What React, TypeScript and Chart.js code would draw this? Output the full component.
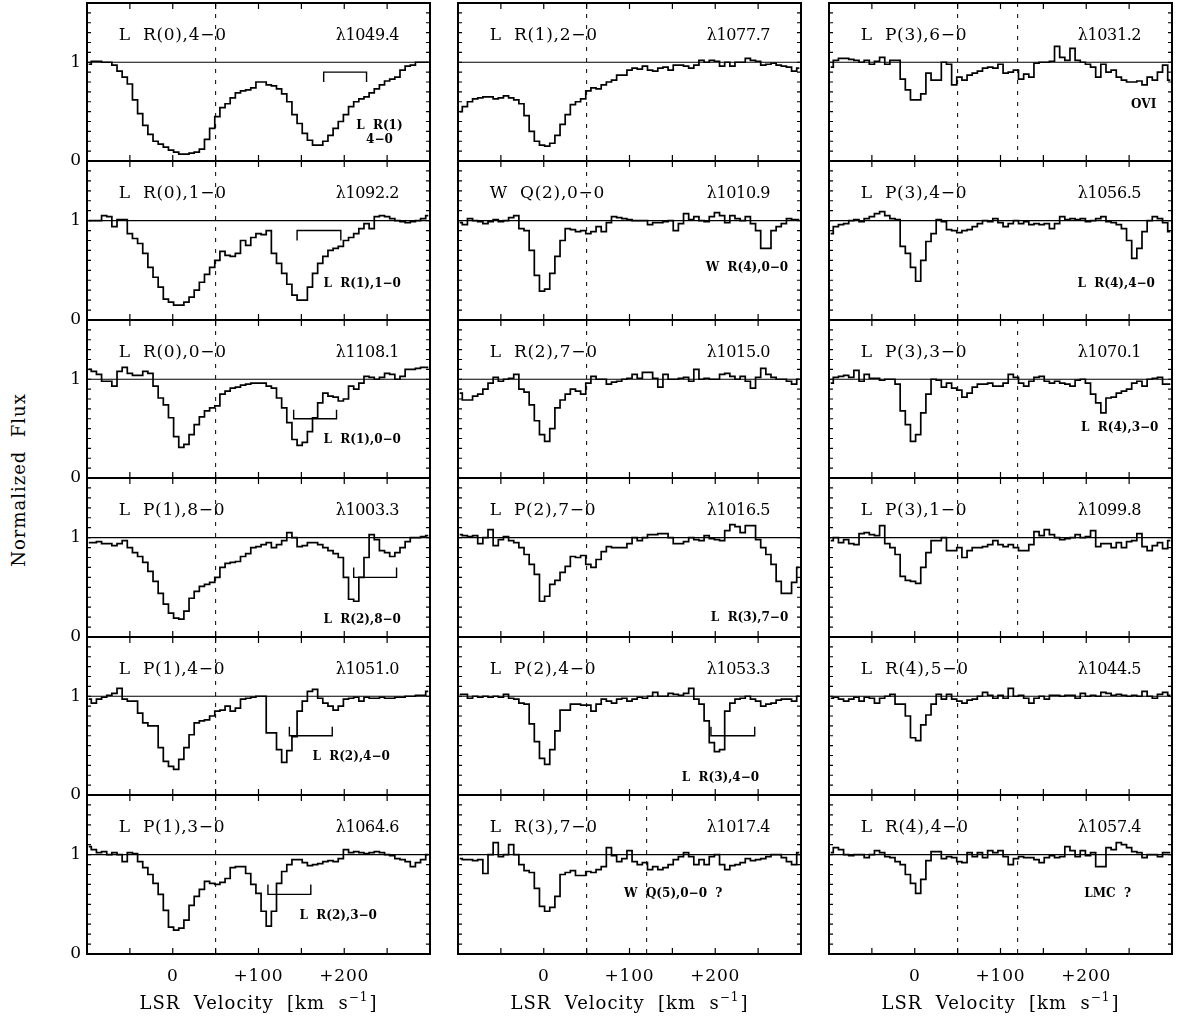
import React, { useEffect, useRef } from "react";
import { Chart, registerables } from "chart.js";

Chart.register(...registerables);

// ---------- data ----------
const VELOCITY = [
  -98, -92, -86, -80, -74, -68, -62, -56, -50, -44, -38, -32, -26, -20, -14, -8, -2, 4, 10, 16,
  22, 28, 34, 40, 46, 52, 58, 64, 70, 76, 82, 88, 94, 100, 106, 112, 118, 124, 130, 136,
  142, 148, 154, 160, 166, 172, 178, 184, 190, 196, 202, 208, 214, 220, 226, 232, 238, 244, 250, 256,
  262, 268, 274, 280, 286, 292, 298,
];

const FLUX_LR0_40 = [
  0.98, 1.01, 1.01, 1.0, 1.0, 0.97, 0.91, 0.85, 0.78, 0.62,
  0.48, 0.36, 0.27, 0.2, 0.17, 0.14, 0.11, 0.09, 0.07, 0.07,
  0.08, 0.09, 0.12, 0.22, 0.33, 0.45, 0.54, 0.58, 0.64, 0.69,
  0.71, 0.72, 0.74, 0.8, 0.8, 0.77, 0.76, 0.73, 0.68, 0.6,
  0.47, 0.38, 0.28, 0.21, 0.16, 0.16, 0.2, 0.26, 0.33, 0.4,
  0.47, 0.55, 0.6, 0.63, 0.65, 0.69, 0.73, 0.77, 0.81, 0.83,
  0.85, 0.92, 0.96, 0.97, 1.0, 1.0, 1.0,
];
const FLUX_LR0_10 = [
  1.0, 1.0, 1.0, 1.05, 1.04, 0.94, 1.01, 1.01, 0.87, 0.82,
  0.77, 0.67, 0.53, 0.43, 0.33, 0.21, 0.18, 0.15, 0.15, 0.18,
  0.23, 0.3, 0.38, 0.46, 0.53, 0.6, 0.69, 0.65, 0.64, 0.67,
  0.8, 0.75, 0.83, 0.87, 0.86, 0.9, 0.67, 0.57, 0.47, 0.36,
  0.25, 0.2, 0.2, 0.33, 0.47, 0.57, 0.64, 0.7, 0.72, 0.74,
  0.8, 0.83, 0.87, 0.92, 0.97, 0.92, 1.04, 1.05, 1.04, 1.02,
  1.0, 0.99, 0.98, 0.99, 1.0, 1.02, 1.05,
];
const FLUX_LR0_00 = [
  1.1, 1.08, 1.05, 0.98, 0.98, 0.93, 1.08, 1.12, 1.06, 1.04,
  1.04, 1.08, 1.06, 0.93, 0.81, 0.74, 0.61, 0.42, 0.31, 0.34,
  0.44, 0.54, 0.62, 0.68, 0.71, 0.73, 0.85, 0.88, 0.91, 0.92,
  0.94, 0.95, 0.96, 0.96, 0.96, 0.93, 0.91, 0.81, 0.71, 0.56,
  0.39, 0.33, 0.36, 0.47, 0.61, 0.76, 0.86, 0.83, 0.82, 0.78,
  0.8, 0.93, 0.9, 0.96, 1.03, 1.02, 1.0, 1.02, 1.06, 1.05,
  1.0, 1.03, 1.1, 1.1, 1.11, 1.12, 1.12,
];
const FLUX_LP1_80 = [
  0.95, 0.95, 0.96, 0.94, 0.94, 0.92, 0.94, 0.97, 0.9, 0.85,
  0.81, 0.75, 0.66, 0.56, 0.44, 0.33, 0.24, 0.19, 0.18, 0.26,
  0.39, 0.46, 0.51, 0.53, 0.55, 0.6, 0.7, 0.74, 0.75, 0.76,
  0.81, 0.84, 0.9, 0.91, 0.93, 0.95, 0.9, 0.93, 0.97, 1.05,
  1.0, 0.91, 0.92, 0.95, 0.95, 0.93, 0.9, 0.87, 0.84, 0.8,
  0.6, 0.38, 0.36, 0.6, 0.8, 1.03, 0.98, 0.87, 0.85, 0.81,
  0.85, 0.9, 0.96, 1.0, 1.0, 1.01, 1.02,
];
const FLUX_LP1_40 = [
  0.97, 0.93, 0.97, 0.99, 1.01, 1.03, 1.08, 0.97, 0.95, 0.95,
  0.83, 0.73, 0.7, 0.7, 0.48, 0.34, 0.29, 0.26, 0.36, 0.48,
  0.61, 0.73, 0.75, 0.76, 0.8, 0.85, 0.86, 0.9, 0.85, 0.88,
  0.97, 0.98, 0.99, 1.0, 1.0, 0.63, 0.63, 0.46, 0.33, 0.45,
  0.59, 0.85, 0.95, 1.05, 1.07, 0.98, 0.93, 0.9, 0.86, 0.9,
  0.97, 0.98, 0.99, 0.95, 0.99, 0.98, 0.98, 0.99, 0.98, 0.98,
  0.99, 0.99, 1.0, 1.0, 1.01, 1.01, 1.05,
];
const FLUX_LP1_30 = [
  1.08, 1.05, 1.02, 1.03, 1.0, 1.02, 1.0, 0.93, 1.02, 1.01,
  0.93, 0.87, 0.8, 0.71, 0.6, 0.44, 0.27, 0.24, 0.26, 0.34,
  0.49, 0.58, 0.65, 0.73, 0.71, 0.7, 0.72, 0.76, 0.87, 0.88,
  0.88, 0.81, 0.7, 0.61, 0.43, 0.28, 0.43, 0.71, 0.83, 0.9,
  0.95, 0.95, 0.92, 0.89, 0.9, 0.91, 0.93, 0.94, 0.93, 0.96,
  1.05, 1.02, 1.03, 1.02, 1.01, 1.02, 1.03, 1.02, 1.0, 0.99,
  0.96, 0.95, 0.93, 0.88, 0.92, 0.95, 1.0,
];
const FLUX_LR1_20 = [
  0.5, 0.55, 0.6, 0.63, 0.64, 0.65, 0.65, 0.63, 0.64, 0.66,
  0.64, 0.62, 0.58, 0.46, 0.3, 0.2, 0.16, 0.15, 0.18, 0.26,
  0.37, 0.47, 0.57, 0.6, 0.63, 0.71, 0.74, 0.73, 0.77, 0.8,
  0.82, 0.87, 0.87, 0.92, 0.94, 0.93, 0.96, 0.92, 0.91, 0.94,
  0.95, 0.92, 0.97, 0.97, 0.96, 0.94, 0.97, 1.02, 1.0, 1.02,
  1.01, 0.96, 1.0, 0.96, 1.0, 1.0, 1.04, 1.02, 1.01, 0.97,
  0.98, 0.99, 0.97, 0.96, 0.95, 0.91, 0.94,
];
const FLUX_WQ2_00 = [
  0.98, 0.96, 1.02, 1.0, 0.99, 0.97, 0.99, 1.01, 0.99, 1.0,
  1.03, 1.05, 0.92, 0.9, 0.7, 0.45, 0.29, 0.31, 0.47, 0.64,
  0.8, 0.92, 0.91, 0.89, 0.9, 0.87, 0.89, 0.94, 0.89, 0.98,
  1.04, 1.03, 1.02, 1.01, 1.0, 1.0, 1.0, 0.96, 0.98, 0.98,
  0.99, 1.0, 0.9, 0.97, 1.07, 1.01, 1.04, 1.0, 0.99, 1.04,
  1.08, 1.05, 0.98, 1.05, 1.02, 1.0, 1.04, 0.97, 0.9, 0.72,
  0.72, 0.9, 0.94, 0.97, 1.02, 1.01, 1.01,
];
const FLUX_LR2_70 = [
  0.86, 0.79, 0.79, 0.83, 0.85, 0.9, 0.96, 1.02, 0.98, 1.0,
  1.01, 1.05, 0.9, 0.87, 0.74, 0.58, 0.44, 0.37, 0.5, 0.71,
  0.79, 0.85, 0.9, 0.88, 0.85, 0.96, 1.03, 1.0, 1.0, 0.95,
  0.97, 0.98, 1.0, 1.01, 1.05, 1.01, 1.07, 1.07, 1.01, 0.92,
  1.05, 1.0, 1.0, 1.01, 1.02, 0.98, 1.1, 1.0, 1.01, 1.0,
  1.0, 1.05, 1.06, 1.03, 1.0, 1.03, 0.98, 0.91, 1.02, 1.11,
  1.05, 1.02, 1.0, 1.0, 0.98, 0.95, 1.0,
];
const FLUX_LP2_70 = [
  1.03, 1.02, 1.01, 1.02, 0.94, 1.0, 1.08, 0.92, 0.98, 1.01,
  0.97, 0.95, 0.9, 0.83, 0.73, 0.63, 0.36, 0.41, 0.53, 0.57,
  0.65, 0.71, 0.81, 0.8, 0.82, 0.73, 0.7, 0.78, 0.86, 0.91,
  0.9, 0.9, 0.9, 0.94, 1.0, 0.97, 1.0, 1.03, 1.03, 1.04,
  1.04, 1.0, 0.94, 0.94, 0.96, 1.0, 0.98, 0.97, 1.02, 0.99,
  0.98, 0.97, 1.07, 1.13, 1.11, 1.05, 1.12, 1.12, 0.98, 0.9,
  0.83, 0.73, 0.56, 0.44, 0.44, 0.55, 0.7,
];
const FLUX_LP2_40 = [
  1.02, 1.02, 0.98, 1.0, 0.99, 1.0, 0.99, 1.0, 0.99, 1.02,
  0.98, 0.97, 0.93, 0.92, 0.72, 0.54, 0.37, 0.31, 0.46, 0.65,
  0.86, 0.86, 0.92, 0.92, 0.91, 0.91, 0.85, 0.92, 0.97, 0.95,
  0.93, 0.97, 0.98, 0.95, 0.97, 0.99, 0.98, 1.0, 1.04, 1.0,
  1.0, 1.03, 1.02, 1.01, 1.03, 1.08, 0.97, 0.92, 0.75, 0.53,
  0.44, 0.46, 0.85, 0.93, 0.97, 0.98, 1.0, 0.97, 0.95, 0.9,
  0.92, 0.93, 0.96, 0.97, 0.97, 0.95, 1.0,
];
const FLUX_LR3_70 = [
  0.96, 0.95, 0.95, 0.94, 0.95, 0.81, 1.0, 1.12, 0.98, 1.0,
  1.1, 1.0, 0.9, 0.84, 0.82, 0.66, 0.48, 0.43, 0.47, 0.58,
  0.8, 0.82, 0.84, 0.79, 0.79, 0.83, 0.82, 0.85, 0.88, 1.07,
  0.99, 0.93, 0.96, 1.04, 0.93, 0.9, 0.92, 0.85, 0.88, 0.85,
  0.87, 0.9, 0.95, 0.98, 1.02, 0.98, 0.9, 0.95, 0.9, 0.98,
  1.0, 0.9, 0.85, 0.89, 0.9, 0.92, 0.96, 0.94, 0.95, 0.96,
  0.98, 1.0, 1.0, 0.97, 0.93, 0.9, 1.02,
];
const FLUX_LP3_60 = [
  0.95, 1.02, 1.04, 1.04, 1.03, 1.02, 1.0, 1.02, 0.98, 1.01,
  1.05, 0.98, 1.02, 1.02, 0.83, 0.72, 0.62, 0.62, 0.68, 0.89,
  0.82, 0.82, 1.0, 0.98, 0.77, 0.85, 0.82, 0.87, 0.89, 0.91,
  0.94, 0.95, 0.94, 0.98, 0.89, 0.9, 0.92, 0.83, 0.88, 0.85,
  0.99, 1.0, 1.0, 1.01, 1.16, 1.05, 1.02, 1.14, 1.02, 1.0,
  0.98, 0.95, 0.85, 0.98, 0.9, 0.92, 0.85, 0.82, 0.8, 0.8,
  0.81, 0.77, 0.85, 0.82, 0.9, 0.97, 0.82,
];
const FLUX_LP3_40 = [
  0.87, 0.94, 0.96, 0.97, 1.0, 1.01, 0.99, 1.02, 1.04, 1.07,
  1.09, 1.05, 1.02, 1.01, 0.74, 0.67, 0.53, 0.39, 0.6, 0.79,
  0.87, 1.01, 0.99, 0.91, 0.9, 0.88, 0.9, 0.91, 0.94, 0.97,
  1.0, 0.99, 1.02, 0.98, 0.94, 0.97, 1.0, 0.97, 0.99, 0.96,
  0.97, 0.96, 0.97, 0.92, 0.97, 1.04, 1.01, 1.02, 1.01, 1.02,
  0.99, 1.0, 1.02, 1.04, 0.99, 0.98, 0.96, 0.92, 0.8, 0.62,
  0.72, 0.89, 1.0, 1.04, 1.02, 0.98, 0.89,
];
const FLUX_LP3_30 = [
  0.96, 1.02, 1.03, 1.04, 1.02, 1.09, 0.98, 1.05, 1.01, 1.01,
  0.99, 1.0, 1.0, 0.95, 0.68, 0.54, 0.37, 0.44, 0.66, 0.85,
  1.0, 0.99, 0.92, 0.96, 0.91, 0.89, 0.82, 0.86, 0.92, 0.95,
  0.95, 0.96, 0.93, 0.93, 0.96, 1.05, 1.02, 0.96, 0.93, 0.98,
  1.02, 1.03, 0.98, 0.96, 0.98, 0.96, 0.95, 0.93, 0.99, 1.0,
  0.96, 0.85, 0.76, 0.66, 0.81, 0.82, 0.86, 0.88, 0.9, 0.96,
  0.98, 0.93, 1.0, 1.01, 1.02, 0.95, 0.95,
];
const FLUX_LP3_10 = [
  0.97, 1.0, 0.95, 0.98, 0.94, 0.93, 1.04, 1.05, 1.03, 1.02,
  1.12, 0.94, 0.9, 0.83, 0.61, 0.57, 0.56, 0.54, 0.7, 0.85,
  0.97, 0.97, 1.0, 0.87, 0.87, 0.9, 0.8, 0.87, 0.9, 0.9,
  0.91, 0.93, 0.97, 0.93, 0.91, 0.93, 0.9, 0.87, 0.87, 0.93,
  1.06, 1.02, 1.08, 1.03, 1.0, 0.98, 0.99, 1.0, 1.03, 1.0,
  1.01, 1.07, 0.91, 0.94, 0.94, 0.9, 0.95, 0.9, 0.96, 0.97,
  1.04, 0.91, 0.87, 0.92, 0.95, 0.89, 0.97,
];
const FLUX_LR4_50 = [
  0.98, 0.99, 0.97, 0.95, 0.97, 0.99, 0.95, 0.99, 0.98, 0.93,
  0.98, 1.0, 1.02, 0.92, 0.92, 0.8, 0.58, 0.55, 0.71, 0.81,
  0.92, 1.02, 0.97, 1.02, 0.97, 0.95, 0.93, 0.96, 0.97, 1.0,
  1.04, 1.01, 0.98, 1.01, 0.98, 1.08, 1.0, 1.01, 0.98, 0.93,
  0.98, 1.0, 0.97, 1.01, 1.01, 1.0, 1.01, 1.01, 0.98, 1.03,
  1.0, 1.01, 1.0, 1.04, 1.03, 1.01, 1.02, 1.01, 1.0, 1.01,
  1.0, 1.05, 1.0, 0.98, 1.02, 1.04, 1.01,
];
const FLUX_LR4_40 = [
  1.02, 1.07, 1.05, 1.0, 0.99, 1.0, 1.0, 0.97, 1.0, 1.04,
  1.02, 0.98, 0.97, 0.93, 0.9, 0.8, 0.71, 0.61, 0.75, 0.94,
  1.03, 1.03, 0.96, 0.98, 0.97, 0.93, 0.92, 1.02, 0.98, 1.02,
  0.97, 1.04, 1.02, 1.04, 0.98, 0.9, 0.96, 0.98, 0.97, 0.97,
  0.95, 0.92, 0.97, 0.99, 0.97, 0.98, 1.08, 1.04, 0.98, 1.04,
  0.99, 1.02, 0.88, 0.88, 1.07, 1.05, 1.12, 1.1, 1.07, 1.03,
  1.02, 0.97, 1.0, 1.0, 0.98, 1.02, 1.02,
];

const X_MIN = -100;
const X_MAX = 300;
const Y_MIN = 0;
const Y_MAX = 1.6;
const X_TICK_MARKS = [-50, 0, 50, 100, 150, 200, 250];
const X_TICK_LABELS = [
  { v: 0, text: "0" },
  { v: 100, text: "+100" },
  { v: 200, text: "+200" },
];
const Y_TICK_MARKS = [0.1, 0.2, 0.3, 0.4, 0.5, 0.6, 0.7, 0.8, 0.9, 1.0, 1.1, 1.2, 1.3, 1.4, 1.5];
const Y_TICK_LABELS = [0, 1];
const CONTINUUM = 1;
const X_TITLE = "LSR  Velocity  [km  s";
const X_TITLE_SUP = "−1";
const Y_TITLE = "Normalized  Flux";

type Bracket = { from: number; to: number; y: number; tip: number };
type Note = { text: string; v: number; y: number };
type Panel = {
  col: number;
  row: number;
  title: string;
  wave: string;
  flux: number[];
  marks: number[];
  bracket?: Bracket;
  notes: Note[];
};

const PANELS: Panel[] = [
  { col: 0, row: 0, title: "L  R(0),4−0", wave: "λ1049.4", flux: FLUX_LR0_40, marks: [50],
    bracket: { from: 176, to: 226, y: 0.9, tip: -0.1 },
    notes: [{ text: "L  R(1)", v: 241, y: 0.36 }, { text: "4−0", v: 241, y: 0.21 }] },
  { col: 0, row: 1, title: "L  R(0),1−0", wave: "λ1092.2", flux: FLUX_LR0_10, marks: [50],
    bracket: { from: 145, to: 196, y: 0.9, tip: -0.1 },
    notes: [{ text: "L  R(1),1−0", v: 221, y: 0.36 }] },
  { col: 0, row: 2, title: "L  R(0),0−0", wave: "λ1108.1", flux: FLUX_LR0_00, marks: [50],
    bracket: { from: 141, to: 191, y: 0.6, tip: 0.09 },
    notes: [{ text: "L  R(1),0−0", v: 221, y: 0.39 }] },
  { col: 0, row: 3, title: "L  P(1),8−0", wave: "λ1003.3", flux: FLUX_LP1_80, marks: [50],
    bracket: { from: 211, to: 261, y: 0.6, tip: 0.1 },
    notes: [{ text: "L  R(2),8−0", v: 221, y: 0.175 }] },
  { col: 0, row: 4, title: "L  P(1),4−0", wave: "λ1051.0", flux: FLUX_LP1_40, marks: [50],
    bracket: { from: 136, to: 186, y: 0.6, tip: 0.09 },
    notes: [{ text: "L  R(2),4−0", v: 208, y: 0.39 }] },
  { col: 0, row: 5, title: "L  P(1),3−0", wave: "λ1064.6", flux: FLUX_LP1_30, marks: [50],
    bracket: { from: 111, to: 161, y: 0.6, tip: 0.1 },
    notes: [{ text: "L  R(2),3−0", v: 193, y: 0.38 }] },

  { col: 1, row: 0, title: "L  R(1),2−0", wave: "λ1077.7", flux: FLUX_LR1_20, marks: [50], notes: [] },
  { col: 1, row: 1, title: "W  Q(2),0−0", wave: "λ1010.9", flux: FLUX_WQ2_00, marks: [50],
    notes: [{ text: "W  R(4),0−0", v: 237, y: 0.52 }] },
  { col: 1, row: 2, title: "L  R(2),7−0", wave: "λ1015.0", flux: FLUX_LR2_70, marks: [50], notes: [] },
  { col: 1, row: 3, title: "L  P(2),7−0", wave: "λ1016.5", flux: FLUX_LP2_70, marks: [50],
    notes: [{ text: "L  R(3),7−0", v: 240, y: 0.19 }] },
  { col: 1, row: 4, title: "L  P(2),4−0", wave: "λ1053.3", flux: FLUX_LP2_40, marks: [50],
    bracket: { from: 195, to: 246, y: 0.6, tip: 0.09 },
    notes: [{ text: "L  R(3),4−0", v: 206, y: 0.17 }] },
  { col: 1, row: 5, title: "L  R(3),7−0", wave: "λ1017.4", flux: FLUX_LR3_70, marks: [50, 120],
    notes: [{ text: "W  Q(5),0−0  ?", v: 151, y: 0.61 }] },

  { col: 2, row: 0, title: "L  P(3),6−0", wave: "λ1031.2", flux: FLUX_LP3_60, marks: [50, 120],
    notes: [{ text: "OVI", v: 267, y: 0.57 }] },
  { col: 2, row: 1, title: "L  P(3),4−0", wave: "λ1056.5", flux: FLUX_LP3_40, marks: [50],
    notes: [{ text: "L  R(4),4−0", v: 235, y: 0.365 }] },
  { col: 2, row: 2, title: "L  P(3),3−0", wave: "λ1070.1", flux: FLUX_LP3_30, marks: [50, 120],
    notes: [{ text: "L  R(4),3−0", v: 239, y: 0.51 }] },
  { col: 2, row: 3, title: "L  P(3),1−0", wave: "λ1099.8", flux: FLUX_LP3_10, marks: [50, 120], notes: [] },
  { col: 2, row: 4, title: "L  R(4),5−0", wave: "λ1044.5", flux: FLUX_LR4_50, marks: [50], notes: [] },
  { col: 2, row: 5, title: "L  R(4),4−0", wave: "λ1057.4", flux: FLUX_LR4_40, marks: [50, 120],
    notes: [{ text: "LMC  ?", v: 225, y: 0.61 }] },
];

// ---------- layout / style ----------
const COL_LEFT = [87, 458, 829];
const PANEL_W = 343;
const ROW_EDGES = [3, 161, 320, 478, 637, 795, 954];
const FONT_FAMILY = '"DejaVu Serif", serif';
const TITLE_FONT = `17px ${FONT_FAMILY}`;
const TITLE_SPACING = "0.7px";
const WAVE_FONT = `16px ${FONT_FAMILY}`;
const WAVE_SPACING = "-0.4px";
const NOTE_FONT = `bold 12px ${FONT_FAMILY}`;
const AXIS_FONT = `17px ${FONT_FAMILY}`;
const AXIS_TITLE_FONT = `18px ${FONT_FAMILY}`;
const AXIS_TITLE_SPACING = "1px";
const TITLE_V_LEFT = -63;
const TITLE_V_RIGHT = 264;
const TITLE_Y = 1.27;

function setSpacing(ctx: any, s: string) {
  try {
    ctx.letterSpacing = s;
  } catch (e) {
    /* ignore */
  }
}

function makePlugin(p: Panel) {
  return {
    id: "decor" + p.col + p.row,
    beforeDatasetsDraw(chart: any) {
      const { ctx, chartArea: a } = chart;
      const xs = chart.scales.x;
      const ys = chart.scales.y;
      ctx.save();
      ctx.strokeStyle = "#000";
      ctx.lineWidth = 1.1;
      ctx.beginPath();
      const yc = ys.getPixelForValue(CONTINUUM);
      ctx.moveTo(a.left, yc);
      ctx.lineTo(a.right, yc);
      ctx.stroke();
      ctx.lineWidth = 1;
      ctx.setLineDash([4, 7]);
      p.marks.forEach((m) => {
        const x = xs.getPixelForValue(m);
        ctx.beginPath();
        ctx.moveTo(x, a.top);
        ctx.lineTo(x, a.bottom);
        ctx.stroke();
      });
      ctx.restore();
    },
    afterDatasetsDraw(chart: any) {
      const { ctx, chartArea: a } = chart;
      const xs = chart.scales.x;
      const ys = chart.scales.y;
      ctx.save();
      ctx.strokeStyle = "#000";
      ctx.fillStyle = "#000";
      // ticks
      ctx.lineWidth = 1.2;
      ctx.beginPath();
      X_TICK_MARKS.forEach((v) => {
        const x = xs.getPixelForValue(v);
        ctx.moveTo(x, a.top);
        ctx.lineTo(x, a.top + 6);
        ctx.moveTo(x, a.bottom);
        ctx.lineTo(x, a.bottom - 6);
      });
      Y_TICK_MARKS.forEach((v) => {
        const y = ys.getPixelForValue(v);
        ctx.moveTo(a.left, y);
        ctx.lineTo(a.left + 4, y);
        ctx.moveTo(a.right, y);
        ctx.lineTo(a.right - 4, y);
      });
      ctx.stroke();
      // border
      ctx.lineWidth = 2;
      ctx.strokeRect(a.left, a.top, a.right - a.left, a.bottom - a.top);
      // bracket
      if (p.bracket) {
        const b = p.bracket;
        const x1 = xs.getPixelForValue(b.from);
        const x2 = xs.getPixelForValue(b.to);
        const y = ys.getPixelForValue(b.y);
        const yt = ys.getPixelForValue(b.y + b.tip);
        ctx.lineWidth = 1.4;
        ctx.beginPath();
        ctx.moveTo(x1, yt);
        ctx.lineTo(x1, y);
        ctx.lineTo(x2, y);
        ctx.lineTo(x2, yt);
        ctx.stroke();
      }
      // titles
      ctx.textBaseline = "middle";
      ctx.font = TITLE_FONT;
      setSpacing(ctx, TITLE_SPACING);
      ctx.textAlign = "left";
      ctx.fillText(p.title, xs.getPixelForValue(TITLE_V_LEFT), ys.getPixelForValue(TITLE_Y));
      ctx.font = WAVE_FONT;
      setSpacing(ctx, WAVE_SPACING);
      ctx.textAlign = "right";
      ctx.fillText(p.wave, xs.getPixelForValue(TITLE_V_RIGHT), ys.getPixelForValue(TITLE_Y));
      // notes
      ctx.font = NOTE_FONT;
      setSpacing(ctx, "0px");
      ctx.textAlign = "center";
      p.notes.forEach((n) => {
        ctx.fillText(n.text, xs.getPixelForValue(n.v), ys.getPixelForValue(n.y));
      });
      // y tick labels
      if (p.col === 0) {
        ctx.font = AXIS_FONT;
        ctx.textAlign = "right";
        Y_TICK_LABELS.forEach((v) => {
          ctx.fillText(String(v), a.left - 6, ys.getPixelForValue(v));
        });
      }
      // x tick labels + title
      if (p.row === 5) {
        ctx.font = AXIS_FONT;
        setSpacing(ctx, "0.8px");
        ctx.textAlign = "center";
        X_TICK_LABELS.forEach((t) => {
          ctx.fillText(t.text, xs.getPixelForValue(t.v), a.bottom + 23);
        });
        const cx = (a.left + a.right) / 2;
        const yb = a.bottom + 50;
        setSpacing(ctx, AXIS_TITLE_SPACING);
        ctx.font = AXIS_TITLE_FONT;
        const w1 = ctx.measureText(X_TITLE).width;
        const w3 = ctx.measureText("]").width;
        ctx.font = `12px ${FONT_FAMILY}`;
        const w2 = ctx.measureText(X_TITLE_SUP).width;
        const total = w1 + w2 + w3 + 1;
        let x0 = cx - total / 2;
        ctx.textAlign = "left";
        ctx.font = AXIS_TITLE_FONT;
        ctx.fillText(X_TITLE, x0, yb);
        x0 += w1;
        ctx.font = `12px ${FONT_FAMILY}`;
        ctx.fillText(X_TITLE_SUP, x0, yb - 6);
        x0 += w2 + 1;
        ctx.font = AXIS_TITLE_FONT;
        ctx.fillText("]", x0, yb);
      }
      ctx.restore();
    },
  };
}

function panelBox(p: Panel) {
  const padL = p.col === 0 ? 40 : 12;
  const padR = 12;
  const padT = 12;
  const padB = p.row === 5 ? 75 : 12;
  const top = ROW_EDGES[p.row];
  const h = ROW_EDGES[p.row + 1] - top;
  return {
    padL, padR, padT, padB,
    left: COL_LEFT[p.col] - padL,
    top: top - padT,
    width: PANEL_W + padL + padR,
    height: h + padT + padB,
  };
}

export default function App() {
  const refs = useRef<(HTMLCanvasElement | null)[]>([]);

  useEffect(() => {
    const charts = PANELS.map((p, k) => {
      const box = panelBox(p);
      const canvas = refs.current[k] as HTMLCanvasElement;
      return new Chart(canvas, {
        type: "line",
        data: {
          datasets: [
            {
              data: VELOCITY.map((v, i) => ({ x: v, y: p.flux[i] })),
              borderColor: "#000",
              borderWidth: 1.7,
              pointRadius: 0,
              stepped: "middle",
              fill: false,
            },
          ],
        },
        options: {
          animation: false,
          responsive: false,
          events: [],
          layout: { padding: { left: box.padL, right: box.padR, top: box.padT, bottom: box.padB } },
          scales: {
            x: { type: "linear", min: X_MIN, max: X_MAX, display: false },
            y: { type: "linear", min: Y_MIN, max: Y_MAX, display: false },
          },
          plugins: { legend: { display: false }, tooltip: { enabled: false } },
        },
        plugins: [makePlugin(p)],
      } as any);
    });
    return () => charts.forEach((c) => c.destroy());
  }, []);

  return (
    <div style={{ position: "absolute", left: 0, top: 0, width: 1178, height: 1021, background: "#fff", overflow: "hidden" }}>
      {PANELS.map((p, k) => {
        const box = panelBox(p);
        return (
          <canvas
            key={k}
            ref={(el) => { refs.current[k] = el; }}
            width={box.width}
            height={box.height}
            style={{ position: "absolute", left: box.left, top: box.top, width: box.width, height: box.height }}
          />
        );
      })}
      <div
        style={{
          position: "absolute",
          left: 18,
          top: 480,
          transform: "translate(-50%, -50%) rotate(-90deg)",
          whiteSpace: "pre",
          font: AXIS_TITLE_FONT,
          letterSpacing: AXIS_TITLE_SPACING,
          color: "#000",
        }}
      >
        {Y_TITLE}
      </div>
    </div>
  );
}
